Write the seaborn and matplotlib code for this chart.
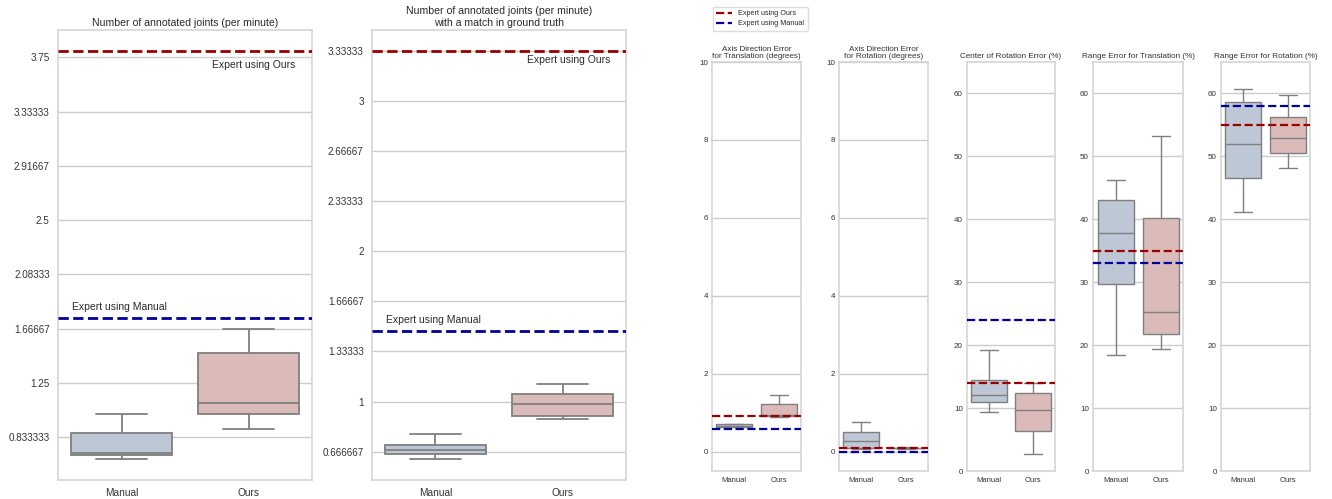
import numpy as np
import pandas as pd
import matplotlib
matplotlib.use("Agg")
import matplotlib.pyplot as plt
from matplotlib.lines import Line2D
from matplotlib.ticker import FuncFormatter
import seaborn as sns

sns.set_theme(style="whitegrid")
plt.rcParams["font.family"] = ["Liberation Sans", "DejaVu Sans"]

methods = ["Manual", "Ours"]

# Per-participant summary values (min, Q1, median, Q3, max) for each method
joints_manual = [0.667, 0.698, 0.710, 0.864, 1.015]
joints_ours = [0.900, 1.015, 1.099, 1.478, 1.665]
matched_manual = [0.616, 0.653, 0.680, 0.709, 0.784]
matched_ours = [0.884, 0.904, 0.982, 1.048, 1.117]
axis_trans_manual = [0.62, 0.62, 0.66, 0.70, 0.70]
axis_trans_ours = [0.89, 0.91, 0.93, 1.22, 1.44]
axis_rot_manual = [0.07, 0.09, 0.28, 0.50, 0.755]
axis_rot_ours = [0.07, 0.08, 0.09, 0.10, 0.11]
center_manual = [9.3, 10.9, 12.0, 14.5, 19.3]
center_ours = [2.7, 6.3, 9.75, 12.45, 14.0]
range_trans_manual = [18.4, 29.7, 37.85, 43.1, 46.3]
range_trans_ours = [19.45, 21.8, 25.2, 40.2, 53.3]
range_rot_manual = [41.1, 46.5, 51.95, 58.6, 60.7]
range_rot_ours = [48.1, 50.5, 53.0, 56.3, 59.7]

# Reference performance of expert annotators
expert_ours = [3.8, 10 / 3, 0.9, 0.08, 14.0, 35.0, 55.0]
expert_manual = [1.75, 22 / 15, 0.58, 0.0, 24.0, 33.0, 58.0]

titles = [
    "Number of annotated joints (per minute)",
    "Number of annotated joints (per minute)\nwith a match in ground truth",
    "Axis Direction Error\nfor Translation (degrees)",
    "Axis Direction Error\nfor Rotation (degrees)",
    "Center of Rotation Error (%)",
    "Range Error for Translation (%)",
    "Range Error for Rotation (%)",
]
series = [
    (joints_manual, joints_ours),
    (matched_manual, matched_ours),
    (axis_trans_manual, axis_trans_ours),
    (axis_rot_manual, axis_rot_ours),
    (center_manual, center_ours),
    (range_trans_manual, range_trans_ours),
    (range_rot_manual, range_rot_ours),
]

box_colors = {"Manual": "#bec7d5", "Ours": "#dbbaba"}
line_gray = "#7f7f7f"
red = "#9b0000"
blue = "#00009b"
text_color = "#2a2a2a"

fig = plt.figure(figsize=(13.32, 4.99), dpi=100)
W, H = 1332, 499

def px_axes(left, right, top, bottom):
    return fig.add_axes([left / W, 1 - bottom / H, (right - left) / W, (bottom - top) / H])

big_boxes = [(58, 312, 30, 480), (372, 626, 30, 480)]
small_boxes = [(712, 801), (839, 928), (967, 1055), (1093, 1183), (1221, 1310)]
axes = [px_axes(*b) for b in big_boxes] + [px_axes(l, r, 62, 471) for l, r in small_boxes]

for i, (ax, (man, ours)) in enumerate(zip(axes, series)):
    df = pd.DataFrame({
        "method": ["Manual"] * len(man) + ["Ours"] * len(ours),
        "value": man + ours,
    })
    big = i < 2
    sns.boxplot(data=df, x="method", y="value", hue="method", order=methods,
                palette=box_colors, saturation=1, linecolor=line_gray,
                linewidth=1.3 if big else 1.0, width=0.8, legend=False, ax=ax)
    lw = 2.0 if big else 1.6
    ax.axhline(expert_ours[i], color=red, ls="--", lw=lw, zorder=5)
    ax.axhline(expert_manual[i], color=blue, ls="--", lw=lw, zorder=5)
    ax.set_xlabel("")
    ax.set_ylabel("")
    ax.set_xlim(-0.5, 1.5)
    for s in ax.spines.values():
        s.set_color("#d5d5d5")
        s.set_linewidth(1.2)
    if big:
        ax.set_title(titles[i], fontsize=7.6, pad=3, color=text_color)
        ax.tick_params(axis="y", labelsize=7.1, pad=6, length=0, colors="#333333")
        ax.tick_params(axis="x", labelsize=7.3, pad=6, length=0, colors="#333333")
        ax.yaxis.set_major_formatter(FuncFormatter(lambda v, p: f"{v:g}"))
    else:
        ax.set_title(titles[i], fontsize=5.9, pad=3, color="#333333", linespacing=1.05)
        ax.tick_params(axis="y", labelsize=5.8, pad=3, length=0, colors="#333333")
        ax.tick_params(axis="x", labelsize=5.5, pad=4, length=0, colors="#333333")
        ax.grid(axis="y", linewidth=1.0)

# Panel-specific scales
axes[0].set_ylim(0.505, 3.96)
axes[0].set_yticks(np.arange(2, 10) * 5 / 12)
axes[1].set_ylim(0.478, 3.473)
axes[1].set_yticks(np.arange(2, 11) / 3)
for ax in axes[2:4]:
    ax.set_ylim(-0.5, 10)
    ax.set_yticks(np.arange(0, 11, 2))
for ax in axes[4:]:
    ax.set_ylim(0, 65)
    ax.set_yticks(np.arange(0, 61, 10))

# Labels for the expert reference lines
axes[0].annotate("Expert using Ours", (1.37, expert_ours[0]), xytext=(0, -10),
                 textcoords="offset points", ha="right", va="center", fontsize=7.5, color=text_color)
axes[0].annotate("Expert using Manual", (-0.39, expert_manual[0]), xytext=(0, 7.5),
                 textcoords="offset points", ha="left", va="center", fontsize=7.5, color=text_color)
axes[1].annotate("Expert using Ours", (1.375, expert_ours[1]), xytext=(0, -6.5),
                 textcoords="offset points", ha="right", va="center", fontsize=7.5, color=text_color)
axes[1].annotate("Expert using Manual", (-0.39, expert_manual[1]), xytext=(0, 8),
                 textcoords="offset points", ha="left", va="center", fontsize=7.5, color=text_color)

handles = [Line2D([], [], color=red, ls="--", lw=1.6),
           Line2D([], [], color=blue, ls="--", lw=1.6)]
fig.legend(handles, ["Expert using Ours", "Expert using Manual"],
           loc="upper left", bbox_to_anchor=(709 / W, 1 - 3 / H), fontsize=5.2,
           frameon=True, handlelength=2.2, borderpad=0.5, labelspacing=0.4,
           handletextpad=0.8, fancybox=True, edgecolor="#d5d5d5")

fig.savefig("out.png", dpi=100, facecolor="white")
